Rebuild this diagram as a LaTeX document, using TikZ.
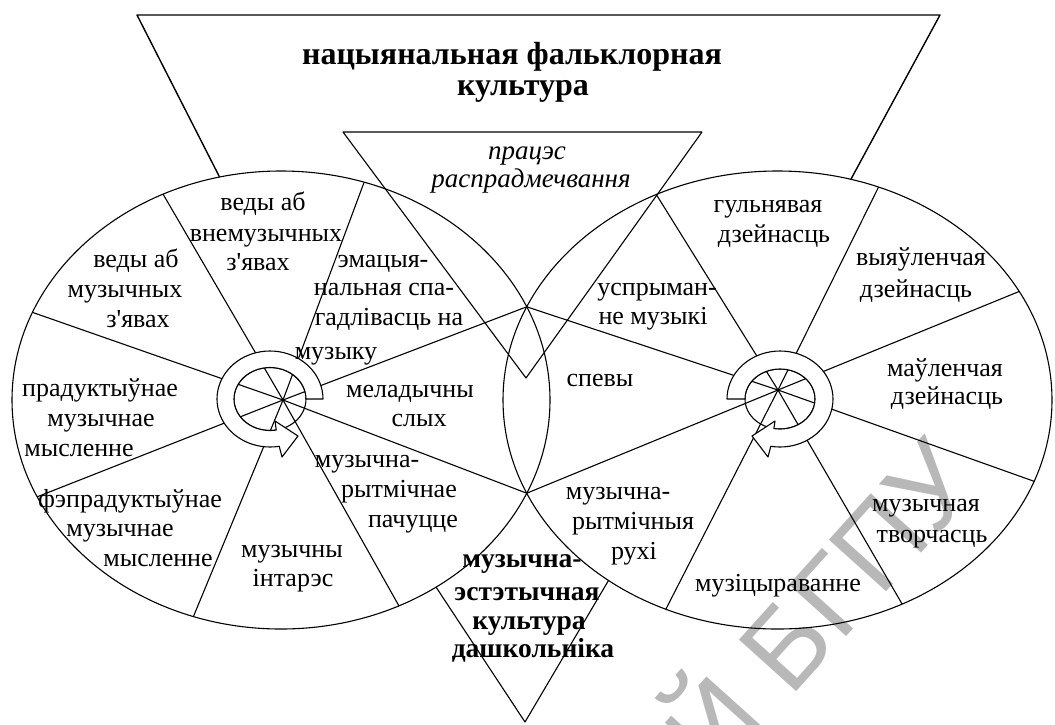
\documentclass[tikz,border=0pt]{standalone}
\usepackage{fontspec}
\setmainfont{Liberation Serif}
\newfontfamily\wmfont{Liberation Sans}
\usetikzlibrary{calc}
\newcommand\ellpoint[5]{\coordinate (#1) at ($(#2)+({#3*cos(#5)},{#4*sin(#5)})$);}
\newcommand\hubshape[4]{%
  \draw (0,0) ellipse [x radius=#3pt, y radius=#4pt];
  \filldraw[fill=white] plot[domain=0:280, samples=60, variable=\t] ({#1*cos(-\t)},{#2*sin(-\t)})
    -- (12,58) -- (28,37) -- (5,22)
    -- plot[domain=0:280, samples=60, variable=\t] ({#3*cos(\t-280)},{#4*sin(\t-280)}) -- cycle;}
\newcommand\apos{\textquotesingle}
\begin{document}
\begin{tikzpicture}[x=1pt,y=-1pt, line width=1.1pt, line join=round,
  body/.style={font=\fontsize{26}{30}\selectfont, anchor=mid, inner sep=0pt},
  ttl/.style={font=\bfseries\fontsize{32}{36}\selectfont, anchor=mid, inner sep=0pt},
  bld/.style={font=\bfseries\fontsize{27.5}{30}\selectfont, anchor=mid, inner sep=0pt},
  itl/.style={font=\itshape\fontsize{27}{30}\selectfont, anchor=mid, inner sep=0pt},
  wmark/.style={font=\wmfont\fontsize{112}{112}\selectfont, text=black, text opacity=0.28, inner sep=0pt, rotate=48}]
\useasboundingbox (0,0) rectangle (1055,724);
\fill[white] (0,0) rectangle (1055,724);

\coordinate (L) at (281,400);
\coordinate (R) at (777.5,400);
\coordinate (C1) at (283,400);
\coordinate (C2) at (778,390);
\coordinate (LT) at (526.7,306.8);
\coordinate (LB) at (526.7,493.2);

% points on the left ellipse
\ellpoint{l1}{L}{269}{229}{-72}
\ellpoint{l2}{L}{269}{229}{-116}
\ellpoint{l3}{L}{269}{229}{-157.5}
\ellpoint{l4}{L}{269}{229}{155}
\ellpoint{l5}{L}{269}{229}{109}
\ellpoint{l6}{L}{269}{229}{64}
% points on the right ellipse
\ellpoint{r1}{R}{274.5}{229}{-116.2}
\ellpoint{r2}{R}{274.5}{229}{-68.4}
\ellpoint{r3}{R}{274.5}{229}{-28.3}
\ellpoint{r4}{R}{274.5}{229}{20.8}
\ellpoint{r5}{R}{274.5}{229}{63}
\ellpoint{r6}{R}{274.5}{229}{114}
% triangle feet
\ellpoint{bt1}{L}{269}{229}{-103.2}
\ellpoint{bt2}{R}{274.5}{229}{-74.5}
\ellpoint{bb1}{L}{269}{229}{54.8}
\ellpoint{bb2}{R}{274.5}{229}{128}
\coordinate (tl) at (137,15);
\coordinate (tr) at (940,15);
\coordinate (bapex) at (525,722);
\coordinate (st1) at (343,132);
\coordinate (st2) at (702,132);
\coordinate (sapex) at (526,378);

% big top triangle and bottom triangle
\draw[line width=1.4pt] (bt1) -- (tl) -- (tr) -- (bt2);
\draw (bb1) -- (bapex) -- (bb2);

% ellipses
\draw (L) ellipse [x radius=269pt, y radius=229pt];
\draw (R) ellipse [x radius=274.5pt, y radius=229pt];

% spokes
\foreach \p in {LT,l1,l2,l3,l4,l5,l6,LB} \draw (C1) -- (\p);
\foreach \p in {LT,r1,r2,r3,r4,r5,r6,LB} \draw (C2) -- (\p);

% hubs
\begin{scope}[shift={(270,399)}]
  \hubshape{53}{48}{36}{31.5}
\end{scope}
\begin{scope}[shift={(780,399)}, xscale=-1]
  \hubshape{53}{48}{35}{30}
\end{scope}

% small triangle
\draw (st1) -- (st2) -- (sapex) -- cycle;

% texts
\node[ttl] (title1) at (512,62) {нацыянальная фальклорная};
\node[ttl] (title2) at (523,93) {культура};
\node[itl] (p1) at (527,157) {працэс};
\node[itl] (p2) at (531,185) {распрадмечвання};
\node[bld] (m1) at (522,565) {музычна-};
\node[bld] (m2) at (527,598) {эстэтычная};
\node[bld] (m3) at (529,627) {культура};
\node[bld] (m4) at (533,655) {дашкольніка};

\node[body] (a1) at (263,208) {веды аб};
\node[body] (a2) at (266,239) {внемузычных};
\node[body] (a3) at (258,268) {з\apos явах};
\node[body] (b1) at (136,265) {веды аб};
\node[body] (b2) at (125,295) {музычных};
\node[body] (b3) at (138,325) {з\apos явах};
\node[body] (c1) at (383,265) {эмацыя-};
\node[body] (c2) at (384,293) {нальная спа-};
\node[body] (c3) at (389,323) {гадлівасць на};
\node[body] (c4) at (336,357) {музыку};
\node[body] (d1) at (100,394) {прадуктыўнае};
\node[body] (d2) at (101,424) {музычнае};
\node[body] (d3) at (79,454) {мысленне};
\node[body] (e1) at (130,505) {фэпрадуктыўнае};
\node[body] (e2) at (120,534) {музычнае};
\node[body] (e3) at (158,564) {мысленне};
\node[body] (f1) at (292,555) {музычны};
\node[body] (f2) at (293,584) {інтарэс};
\node[body] (g1) at (367,465) {музычна-};
\node[body] (g2) at (399,495) {рытмічнае};
\node[body] (g3) at (413,525) {пачуцце};
\node[body] (h1) at (410,395) {меладычны};
\node[body] (h2) at (419,424) {слых};

\node[body] (i1) at (600,384) {спевы};
\node[body] (j1) at (657,293) {успрыман-};
\node[body] (j2) at (653,322) {не музыкі};
\node[body] (k1) at (768,210) {гульнявая};
\node[body] (k2) at (774,240) {дзейнасць};
\node[body] (n1) at (921,263) {выяўленчая};
\node[body] (n2) at (916,295) {дзейнасць};
\node[body] (o1) at (945,374) {маўленчая};
\node[body] (o2) at (947,402) {дзейнасць};
\node[body] (q1) at (926,509) {музычная};
\node[body] (q2) at (932,540) {творчасць};
\node[body] (s1) at (778,589) {музіцыраванне};
\node[body] (u1) at (618,497) {музычна-};
\node[body] (u2) at (633,527) {рытмічныя};
\node[body] (u3) at (634,557) {рухі};

% watermark
\node[wmark] (wm) at (812,600) {Й БГПУ};
\end{tikzpicture}
\end{document}
